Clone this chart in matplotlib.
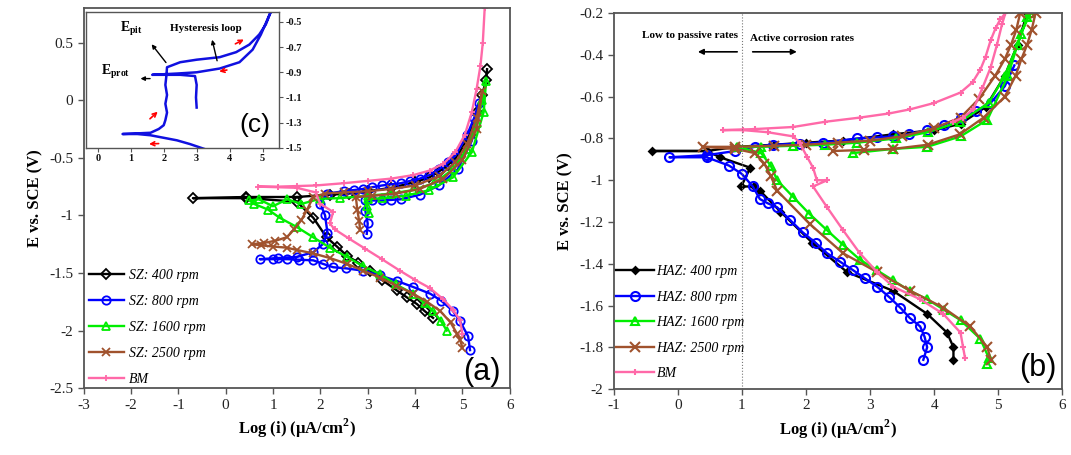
import matplotlib
matplotlib.use('Agg')
import matplotlib.pyplot as plt
from matplotlib.ticker import FuncFormatter

plt.rcParams['font.family'] = ['Liberation Serif', 'DejaVu Serif']
plt.rcParams['axes.unicode_minus'] = False
plt.rcParams['mathtext.fontset'] = 'custom'
plt.rcParams['mathtext.rm'] = 'Liberation Serif'
plt.rcParams['mathtext.bf'] = 'Liberation Serif:bold'

# ---- (a) stir zone curves: log(i) vs E ----
a400_x = [4.38, 4.2, 4.04, 3.82, 3.61, 3.3, 3.05, 2.8, 2.56, 2.35, 2.13, 1.85, 1.5, 0.44, -0.69, 0.44, 1.5, 2.2, 2.6, 3.0, 3.5, 4.0, 4.3, 4.5, 4.7, 4.9, 5.15, 5.3, 5.42, 5.5, 5.52]
a400_y = [-1.89, -1.83, -1.77, -1.71, -1.65, -1.56, -1.48, -1.41, -1.35, -1.27, -1.19, -1.02, -0.88, -0.85, -0.85, -0.84, -0.84, -0.82, -0.81, -0.79, -0.76, -0.71, -0.67, -0.62, -0.56, -0.48, -0.3, -0.1, 0.05, 0.18, 0.27]

a800_x = [5.16, 5.12, 4.95, 4.8, 4.55, 4.32, 3.95, 3.62, 3.25, 2.9, 2.55, 2.27, 2.05, 1.85, 1.55, 1.3, 1.0, 0.72, 1.1, 1.5, 1.85, 2.05, 2.15, 2.1, 2.0, 2.15, 2.5, 2.7, 2.9, 3.1, 3.3, 3.5, 3.7, 3.9, 4.1, 4.3, 4.5, 4.7, 4.85, 5.1, 5.25, 5.35, 5.2, 4.9, 4.5, 4.1, 3.7, 3.5, 3.3, 3.1, 2.95, 2.95, 3.0, 2.98]
a800_y = [-2.17, -2.05, -1.92, -1.83, -1.74, -1.68, -1.62, -1.57, -1.52, -1.48, -1.46, -1.45, -1.42, -1.39, -1.385, -1.38, -1.38, -1.38, -1.37, -1.36, -1.32, -1.25, -1.15, -1.0, -0.9, -0.81, -0.79, -0.78, -0.77, -0.755, -0.74, -0.73, -0.72, -0.70, -0.68, -0.65, -0.6, -0.54, -0.48, -0.3, -0.15, -0.02, -0.35, -0.6, -0.74, -0.82, -0.86, -0.865, -0.87, -0.87, -0.87, -0.96, -1.07, -1.16]

a1600_x = [4.67, 4.55, 4.38, 4.2, 3.96, 3.6, 3.26, 2.9, 2.56, 2.2, 1.85, 1.5, 1.14, 0.9, 0.6, 0.5, 0.7, 1.0, 1.3, 1.6, 2.0, 2.41, 3.0, 3.5, 3.96, 4.4, 4.8, 5.1, 5.3, 5.42, 5.5, 5.45, 5.2, 4.8, 4.3, 3.8, 3.3, 3.0, 2.98, 3.02]
a1600_y = [-2.0, -1.92, -1.83, -1.76, -1.68, -1.6, -1.51, -1.44, -1.36, -1.28, -1.19, -1.1, -1.02, -0.95, -0.9, -0.87, -0.86, -0.92, -0.86, -0.9, -0.855, -0.85, -0.83, -0.81, -0.78, -0.72, -0.6, -0.42, -0.2, 0.0, 0.17, -0.1, -0.45, -0.67, -0.78, -0.83, -0.85, -0.86, -0.92, -0.98]

a2500_x = [5.0, 4.95, 4.89, 4.75, 4.53, 4.25, 3.96, 3.6, 3.26, 2.9, 2.56, 2.2, 1.85, 1.5, 1.29, 1.0, 0.75, 0.55, 0.8, 1.05, 1.29, 1.45, 1.6, 1.72, 1.85, 2.1, 2.5, 3.0, 3.5, 4.0, 4.5, 4.85, 5.1, 5.3, 5.42, 5.3, 5.0, 4.6, 4.1, 3.6, 3.1, 2.75, 2.78, 2.82, 2.84]
a2500_y = [-2.15, -2.08, -2.03, -1.93, -1.83, -1.75, -1.68, -1.61, -1.54, -1.48, -1.42, -1.37, -1.33, -1.3, -1.28, -1.27, -1.26, -1.25, -1.24, -1.22, -1.19, -1.12, -1.04, -0.95, -0.84, -0.81, -0.8, -0.79, -0.77, -0.74, -0.66, -0.54, -0.38, -0.15, 0.08, -0.25, -0.52, -0.68, -0.77, -0.81, -0.83, -0.84, -0.95, -1.05, -1.13]

abm_x = [5.0, 4.95, 4.8, 4.6, 4.31, 4.0, 3.68, 3.3, 2.95, 2.6, 2.3, 2.2, 2.27, 2.0, 1.9, 1.5, 1.1, 0.68, 1.1, 1.5, 1.9, 2.5, 3.0, 3.5, 3.96, 4.31, 4.6, 4.85, 5.05, 5.2, 5.3, 5.38, 5.43, 5.47]
abm_y = [-2.03, -1.91, -1.82, -1.73, -1.63, -1.56, -1.48, -1.38, -1.29, -1.2, -1.12, -1.07, -0.97, -0.9, -0.8, -0.76, -0.755, -0.75, -0.75, -0.745, -0.74, -0.72, -0.7, -0.68, -0.65, -0.61, -0.55, -0.45, -0.3, -0.1, 0.1, 0.3, 0.5, 0.8]

# ---- (b) heat affected zone curves ----
b400_x = [4.3, 4.3, 4.2, 3.89, 3.36, 2.64, 2.1, 1.6, 1.28, 1.19, 0.99, 1.13, 0.66, 0.45, -0.41, 0.45, 0.92, 1.5, 2.0, 2.58, 3.36, 4.0, 4.41, 4.8, 5.1, 5.3, 5.45]
b400_y = [-1.86, -1.80, -1.73, -1.64, -1.53, -1.44, -1.3, -1.15, -1.05, -1.03, -1.03, -0.94, -0.89, -0.86, -0.86, -0.86, -0.84, -0.83, -0.82, -0.81, -0.78, -0.76, -0.73, -0.65, -0.5, -0.35, -0.2]

b800_x = [3.83, 3.89, 3.85, 3.78, 3.62, 3.47, 3.3, 3.11, 2.92, 2.73, 2.53, 2.33, 2.15, 1.95, 1.75, 1.55, 1.4, 1.28, 1.17, 1.0, 0.8, 0.45, -0.13, 0.45, 0.9, 1.2, 1.48, 1.9, 2.27, 2.8, 3.1, 3.36, 3.6, 3.89, 4.15, 4.41, 4.65, 4.88, 5.1, 5.25]
b800_y = [-1.86, -1.80, -1.75, -1.70, -1.66, -1.61, -1.56, -1.51, -1.47, -1.43, -1.39, -1.35, -1.30, -1.25, -1.19, -1.13, -1.11, -1.09, -1.03, -0.97, -0.93, -0.89, -0.89, -0.88, -0.86, -0.84, -0.83, -0.825, -0.82, -0.80, -0.795, -0.79, -0.78, -0.76, -0.735, -0.70, -0.67, -0.63, -0.55, -0.45]

b1600_x = [4.83, 4.85, 4.72, 4.41, 4.15, 3.89, 3.62, 3.36, 3.1, 2.84, 2.58, 2.33, 2.05, 1.8, 1.55, 1.45, 1.3, 0.92, 1.3, 1.8, 2.3, 2.8, 3.4, 3.9, 4.4, 4.85, 5.1, 5.3, 5.45, 5.5, 5.35, 5.15, 4.83, 4.41, 3.89, 3.36, 2.73]
b1600_y = [-1.88, -1.85, -1.76, -1.67, -1.62, -1.57, -1.53, -1.48, -1.43, -1.38, -1.31, -1.24, -1.16, -1.08, -1.0, -0.93, -0.87, -0.84, -0.84, -0.835, -0.83, -0.82, -0.80, -0.77, -0.72, -0.63, -0.5, -0.35, -0.22, -0.2, -0.3, -0.5, -0.71, -0.79, -0.84, -0.85, -0.87]

b2500_x = [4.88, 4.83, 4.56, 4.14, 3.63, 3.11, 2.58, 2.06, 1.55, 1.45, 1.35, 1.2, 0.9, 0.39, 0.9, 1.5, 2.0, 2.5, 3.0, 3.5, 4.0, 4.41, 4.7, 4.95, 5.1, 5.2, 5.28, 5.34, 5.58, 5.52, 5.45, 5.36, 5.27, 5.1, 4.77, 4.4, 3.9, 3.36, 2.9, 2.42]
b2500_y = [-1.86, -1.80, -1.70, -1.61, -1.53, -1.44, -1.35, -1.21, -1.05, -0.98, -0.92, -0.87, -0.85, -0.84, -0.84, -0.835, -0.83, -0.82, -0.81, -0.79, -0.75, -0.70, -0.61, -0.5, -0.42, -0.35, -0.28, -0.2, -0.2, -0.28, -0.35, -0.42, -0.5, -0.6, -0.7, -0.78, -0.83, -0.85, -0.855, -0.86]

bbm_x = [4.48, 4.45, 4.41, 4.14, 3.78, 3.36, 3.11, 2.84, 2.58, 2.33, 2.11, 2.33, 2.17, 2.11, 2.02, 1.9, 1.8, 1.4, 1.02, 0.70, 1.2, 1.8, 2.3, 2.84, 3.3, 3.63, 4.0, 4.41, 4.6, 4.72, 4.8, 4.88, 4.96, 5.03, 5.11, 5.06, 4.98, 4.88, 4.75, 4.61, 4.45, 4.3]
bbm_y = [-1.85, -1.80, -1.73, -1.64, -1.57, -1.51, -1.44, -1.35, -1.24, -1.13, -1.03, -1.0, -1.0, -0.94, -0.89, -0.82, -0.79, -0.77, -0.76, -0.76, -0.755, -0.745, -0.72, -0.70, -0.68, -0.66, -0.63, -0.58, -0.53, -0.47, -0.41, -0.33, -0.27, -0.23, -0.2, -0.25, -0.35, -0.46, -0.56, -0.66, -0.70, -0.72]

# ---- (c) inset hysteresis loop ----
c_x = [3.25, 2.8, 2.4, 2.0, 1.6, 1.2, 0.75, 1.2, 1.6, 1.85, 2.0, 2.05, 2.1, 2.05, 2.1, 2.05, 2.08, 2.1, 2.5, 3.0, 3.7, 4.2, 4.6, 4.9, 5.1, 5.25,
       5.15, 4.95, 4.7, 4.3, 3.7, 3.0, 2.4, 1.65, 2.5, 2.95, 3.0, 2.98, 3.0]
c_y = [-1.51, -1.47, -1.44, -1.42, -1.40, -1.39, -1.39, -1.385, -1.38, -1.35, -1.32, -1.28, -1.22, -1.15, -1.08, -1.0, -0.93, -0.86, -0.82, -0.80, -0.78, -0.74, -0.68, -0.6, -0.52, -0.42,
       -0.48, -0.6, -0.72, -0.82, -0.87, -0.9, -0.91, -0.92, -0.92, -0.93, -1.0, -1.1, -1.18]

labels_a = ['SZ: 400 rpm', 'SZ: 800 rpm', 'SZ: 1600 rpm', 'SZ: 2500 rpm', 'BM']
labels_b = ['HAZ: 400 rpm', 'HAZ: 800 rpm', 'HAZ: 1600 rpm', 'HAZ: 2500 rpm', 'BM']

colors = ['#000000', '#0000ff', '#00ee00', '#a0522d', '#ff69a8']
markers = ['D', 'o', '^', 'x', '+']

fig = plt.figure(figsize=(10.71, 4.55), dpi=100)
axa = fig.add_axes([0.078, 0.147, 0.398, 0.835])
axb = fig.add_axes([0.573, 0.145, 0.419, 0.826])

fmt = FuncFormatter(lambda v, p: '%g' % v)


def style(ax):
    for s in ax.spines.values():
        s.set_color('#555555')
        s.set_linewidth(1.3)
    ax.tick_params(direction='out', length=4, width=1, colors='#555555',
                   labelcolor='#222222', labelsize=11)
    ax.xaxis.set_major_formatter(fmt)
    ax.yaxis.set_major_formatter(fmt)
    ax.set_xlabel('Log (i) (\u00b5A/cm$^\\mathbf{2}$)', fontsize=12, fontweight='bold')
    ax.set_ylabel('E vs. SCE (V)', fontsize=12, fontweight='bold')


series_a = [(a400_x, a400_y), (a800_x, a800_y), (a1600_x, a1600_y), (a2500_x, a2500_y), (abm_x, abm_y)]
series_b = [(b400_x, b400_y), (b800_x, b800_y), (b1600_x, b1600_y), (b2500_x, b2500_y), (bbm_x, bbm_y)]
msize_a = [5, 6, 6, 6, 4.5]
msize_b = [3.5, 6.5, 6, 7, 4.5]

for (xs, ys), lab, c, m, ms in zip(series_a, labels_a, colors, markers, msize_a):
    axa.plot(xs, ys, color=c, lw=1.7, marker=m, ms=ms, mfc='none', mew=1.3, label=lab)
for (xs, ys), lab, c, m, ms in zip(series_b, labels_b, colors, markers, msize_b):
    mfc = c if m == 'D' else 'none'
    axb.plot(xs, ys, color=c, lw=1.7, marker=m, ms=ms, mfc=mfc, mew=1.5, label=lab)

axa.set_xlim(-3, 6)
axa.set_ylim(-2.5, 0.8)
axa.set_xticks(range(-3, 7))
axa.set_yticks([-2.5, -2, -1.5, -1, -0.5, 0, 0.5])
style(axa)

axb.set_xlim(-1, 6)
axb.set_ylim(-2, -0.2)
axb.set_xticks(range(-1, 7))
axb.set_yticks([-2, -1.8, -1.6, -1.4, -1.2, -1, -0.8, -0.6, -0.4, -0.2])
style(axb)

leg_font = {'family': 'Liberation Serif', 'style': 'italic', 'size': 10}
axa.legend(loc='lower left', bbox_to_anchor=(0.0, -0.01), frameon=False, prop=leg_font,
           handlelength=2.5, labelspacing=0.95, handletextpad=0.4, borderaxespad=0)
axb.legend(loc='lower left', bbox_to_anchor=(-0.007, 0.009), frameon=False, prop=leg_font,
           handlelength=2.7, labelspacing=0.9, handletextpad=0.2, borderaxespad=0)

axa.text(5.42, -2.36, '(a)', fontsize=22, family='Liberation Sans', ha='center', va='center')
axb.text(5.62, -1.90, '(b)', fontsize=22, family='Liberation Sans', ha='center', va='center')

# rate regions in (b)
axb.axvline(1, color='#777777', lw=0.8, ls=':')
axb.text(0.19, -0.305, 'Low to passive rates', fontsize=8, fontweight='bold', ha='center', va='center')
axb.text(1.125, -0.32, 'Active corrosion rates', fontsize=8, fontweight='bold', ha='left', va='center')
axb.annotate('', xy=(0.27, -0.385), xytext=(0.97, -0.385),
             arrowprops=dict(arrowstyle='-|>', color='black', lw=1.2, mutation_scale=8))
axb.annotate('', xy=(1.9, -0.385), xytext=(1.125, -0.385),
             arrowprops=dict(arrowstyle='-|>', color='black', lw=1.2, mutation_scale=8))

# inset (c)
axc = fig.add_axes([0.0803, 0.675, 0.1802, 0.299])
axc.plot(c_x, c_y, color='#1010e0', lw=1.8)
axc.set_xlim(-0.36, 5.5)
axc.set_ylim(-1.5, -0.42)
axc.set_xticks(range(0, 6))
axc.set_yticks([-1.5, -1.3, -1.1, -0.9, -0.7, -0.5])
axc.yaxis.tick_right()
axc.xaxis.set_major_formatter(fmt)
axc.yaxis.set_major_formatter(fmt)
for s in axc.spines.values():
    s.set_color('#555555')
    s.set_linewidth(1.0)
axc.tick_params(direction='out', length=3, width=0.8, colors='#555555', labelcolor='#111111', labelsize=7.5, pad=1.5)
for t in axc.get_xticklabels() + axc.get_yticklabels():
    t.set_fontweight('bold')

axc.text(1.03, -0.56, r'$\mathbf{E_{pit}}$', fontsize=10, ha='center', va='center')
axc.text(3.27, -0.55, 'Hysteresis loop', fontsize=8, fontweight='bold', ha='center', va='center')
axc.text(0.53, -0.9, r'$\mathbf{E_{prot}}$', fontsize=10, ha='center', va='center')
axc.annotate('', xy=(1.58, -0.66), xytext=(2.12, -0.84),
             arrowprops=dict(arrowstyle='-|>', color='black', lw=1.0, mutation_scale=6))
axc.annotate('', xy=(3.45, -0.62), xytext=(3.64, -0.83),
             arrowprops=dict(arrowstyle='-|>', color='black', lw=1.0, mutation_scale=6))
axc.annotate('', xy=(1.21, -0.95), xytext=(1.67, -0.95),
             arrowprops=dict(arrowstyle='-|>', color='black', lw=1.0, mutation_scale=6))

red_arrows = [((4.10, -0.684), (4.51, -0.63)), ((4.0, -0.878), (3.6, -0.897)),
              ((1.52, -1.284), (1.88, -1.198)), ((1.93, -1.465), (1.47, -1.47))]
for tail, head in red_arrows:
    axc.annotate('', xy=head, xytext=tail,
                 arrowprops=dict(arrowstyle='->', color='red', lw=1.2, mutation_scale=7))
axc.text(4.76, -1.32, '(c)', fontsize=19, family='Liberation Sans', ha='center', va='center')

fig.savefig('out.png', dpi=100)
